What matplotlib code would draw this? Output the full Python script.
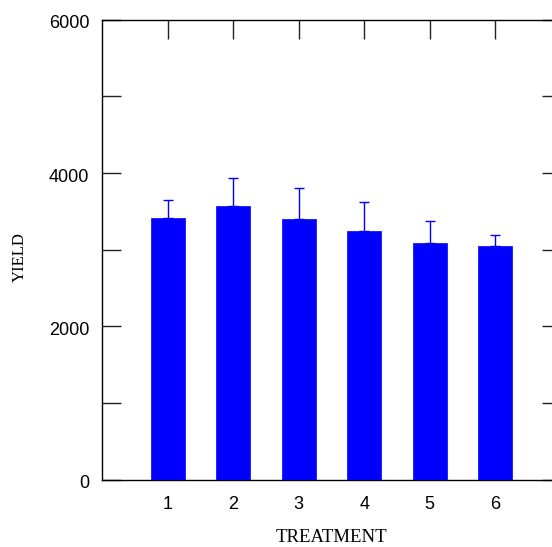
import matplotlib.pyplot as plt
import matplotlib.transforms as mtransforms
import numpy as np

# values
treatments = [1, 2, 3, 4, 5, 6]
yield_mean = [3405, 3567, 3394, 3241, 3085, 3041]
yield_err = [245, 366, 412, 383, 291, 144]

W, H = 552, 547
fig = plt.figure(figsize=(W / 100, H / 100), dpi=100)

# axes runs a little past the right edge of the picture, as in the reference
left, right, top, bottom = 102.2, 560.7, 19.5, 479.5
ax = fig.add_axes([left / W, (H - bottom) / H, (right - left) / W, (bottom - top) / H])

ax.bar(treatments, yield_mean, width=0.52, color='#0000ff', edgecolor='#0000ff',
       linewidth=0.5, zorder=3)
ax.errorbar(treatments, yield_mean, yerr=[np.zeros(len(yield_err)), yield_err],
            fmt='none', ecolor='#0000ff', elinewidth=1.0, capsize=3.3,
            capthick=1.0, zorder=4)

ax.set_xlim(0, 7)
ax.set_ylim(0, 6000)
ax.set_xticks(treatments)
ax.set_yticks(np.arange(0, 6001, 1000))
ax.set_yticklabels(['0', '', '2000', '', '4000', '', '6000'])

sans = ['Liberation Sans', 'DejaVu Sans']
serif = ['Liberation Serif', 'DejaVu Serif']
for lbl in ax.get_xticklabels() + ax.get_yticklabels():
    lbl.set_fontfamily(sans)
    lbl.set_fontsize(13)

ax.tick_params(axis='both', direction='in', length=14, width=1.0, color='#222222',
               top=True, right=True)
ax.tick_params(axis='x', pad=12)
ax.tick_params(axis='y', pad=9.3)
for s in ax.spines.values():
    s.set_linewidth(1.0)
    s.set_color('black')

# y tick labels sit a couple of pixels below their ticks in the reference
shift = mtransforms.ScaledTranslation(0, -2.5 / 100, fig.dpi_scale_trans)
for lbl in ax.get_yticklabels():
    lbl.set_transform(lbl.get_transform() + shift)

ax.set_xlabel('TREATMENT', fontfamily=serif, fontsize=13.5)
ax.xaxis.set_label_coords(0.5, (bottom - 542.5) / (bottom - top))
ax.xaxis.label.set_va('baseline')

ax.set_ylabel('YIELD', fontfamily=serif, fontsize=12)
ax.yaxis.set_label_coords((20 - left) / (right - left), (bottom - 257) / (bottom - top))
ax.yaxis.label.set_va('center')

fig.savefig('out.png', dpi=100)
